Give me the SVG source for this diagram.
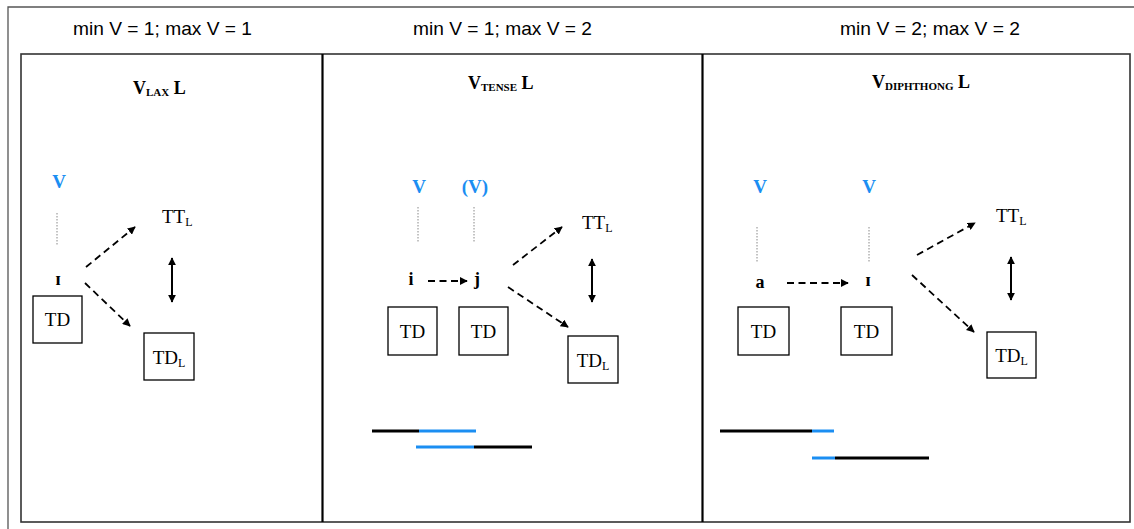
<svg xmlns="http://www.w3.org/2000/svg" width="1134" height="529" viewBox="0 0 1134 529">
<defs>
<style>
.title{font-family:"Liberation Sans",Arial,sans-serif;font-size:19px;fill:#000}
.head{font-family:"Liberation Serif","DejaVu Serif",serif;font-size:18px;font-weight:bold;fill:#000}
.sub{font-size:11px}
.blue{font-family:"Liberation Serif","DejaVu Serif",serif;font-size:19px;font-weight:bold;fill:#1b8ef2;text-anchor:middle}
.seg{font-family:"Liberation Serif","DejaVu Serif",serif;font-size:18px;font-weight:bold;fill:#000;text-anchor:middle}
.lbl{font-family:"Liberation Serif","DejaVu Serif",serif;font-size:19px;fill:#000}
.lsub{font-size:12px}
.box{fill:#fff;stroke:#000;stroke-width:1.3}
.dash{fill:none;stroke:#000;stroke-width:1.8;stroke-dasharray:7,4.5}
.dot{fill:none;stroke:#888;stroke-width:1;stroke-dasharray:1.5,1.5}
.dbl{fill:none;stroke:#000;stroke-width:2}
.bk{stroke:#000;stroke-width:3}
.bl{stroke:#1b8ef2;stroke-width:3}
</style>
<marker id="ah" viewBox="0 0 10 10" refX="9" refY="5" markerWidth="8" markerHeight="8" markerUnits="userSpaceOnUse" orient="auto"><path d="M0,0 L10,5 L0,10 z" fill="#000"/></marker>
<marker id="ah2" viewBox="0 0 10 10" refX="9" refY="5" markerWidth="8" markerHeight="8" markerUnits="userSpaceOnUse" orient="auto-start-reverse"><path d="M0,0 L10,5 L0,10 z" fill="#000"/></marker>
</defs>
<rect width="1134" height="529" fill="#fff"/>
<g id="frame">
<path d="M8,529 V7 H1134" fill="none" stroke="#555" stroke-width="1.3"/>
<rect x="21" y="54" width="1109" height="468" fill="none" stroke="#333" stroke-width="1.6"/>
<line x1="322.5" y1="54" x2="322.5" y2="522" stroke="#000" stroke-width="2.2"/>
<line x1="702.5" y1="54" x2="702.5" y2="522" stroke="#000" stroke-width="2.2"/>
</g>
<g id="titles">
<text class="title" x="73" y="35" textLength="179" lengthAdjust="spacingAndGlyphs">min V = 1; max V = 1</text>
<text class="title" x="413" y="35" textLength="179" lengthAdjust="spacingAndGlyphs">min V = 1; max V = 2</text>
<text class="title" x="840" y="35" textLength="180" lengthAdjust="spacingAndGlyphs">min V = 2; max V = 2</text>
</g>
<g id="heading-lax"><text class="head" x="133" y="94">V<tspan class="sub" dy="2">LAX</tspan><tspan dy="-2"> L</tspan></text></g>
<g id="heading-tense"><text class="head" x="468" y="89">V<tspan class="sub" dy="2">TENSE</tspan><tspan dy="-2"> L</tspan></text></g>
<g id="heading-diph"><text class="head" x="872" y="88">V<tspan class="sub" dy="2">DIPHTHONG</tspan><tspan dy="-2"> L</tspan></text></g>

<g id="p1-V"><text class="blue" x="59" y="188">V</text></g>
<g id="p1-seg"><text class="seg" x="58" y="285">ɪ</text></g>
<g id="p1-TD"><rect class="box" x="33" y="296" width="49" height="47"/><text class="lbl" x="57.5" y="326" text-anchor="middle">TD</text></g>
<g id="p1-TTL"><text class="lbl" x="162" y="223">TT<tspan class="lsub" dy="3">L</tspan></text></g>
<g id="p1-TDL"><rect class="box" x="144" y="333" width="50" height="47"/><text class="lbl" x="169" y="364" text-anchor="middle">TD<tspan class="lsub" dy="3">L</tspan></text></g>

<g id="p2-V1"><text class="blue" x="419" y="193">V</text></g>
<g id="p2-V2"><text class="blue" x="475" y="193">(V)</text></g>
<g id="p2-i"><text class="seg" x="411" y="285">i</text></g>
<g id="p2-j"><text class="seg" x="477" y="285">j</text></g>
<g id="p2-TD1"><rect class="box" x="388" y="307" width="49" height="48"/><text class="lbl" x="412.5" y="338" text-anchor="middle">TD</text></g>
<g id="p2-TD2"><rect class="box" x="459" y="307" width="49" height="48"/><text class="lbl" x="483.5" y="338" text-anchor="middle">TD</text></g>
<g id="p2-TTL"><text class="lbl" x="582" y="229">TT<tspan class="lsub" dy="3">L</tspan></text></g>
<g id="p2-TDL"><rect class="box" x="568" y="336" width="50" height="47"/><text class="lbl" x="593" y="367" text-anchor="middle">TD<tspan class="lsub" dy="3">L</tspan></text></g>

<g id="p3-V1"><text class="blue" x="760" y="193">V</text></g>
<g id="p3-V2"><text class="blue" x="869" y="193">V</text></g>
<g id="p3-a"><text class="seg" x="760" y="288">a</text></g>
<g id="p3-I"><text class="seg" x="868" y="286">ɪ</text></g>
<g id="p3-TD1"><rect class="box" x="738" y="307" width="51" height="48"/><text class="lbl" x="763.5" y="338" text-anchor="middle">TD</text></g>
<g id="p3-TD2"><rect class="box" x="841" y="307" width="51" height="48"/><text class="lbl" x="866.5" y="338" text-anchor="middle">TD</text></g>
<g id="p3-TTL"><text class="lbl" x="996" y="222">TT<tspan class="lsub" dy="3">L</tspan></text></g>
<g id="p3-TDL"><rect class="box" x="987" y="332" width="49" height="46"/><text class="lbl" x="1011.5" y="362" text-anchor="middle">TD<tspan class="lsub" dy="3">L</tspan></text></g>

<g id="connectors">
<line class="dot" x1="57" y1="213" x2="57" y2="246"/>
<line class="dash" x1="86" y1="267" x2="135" y2="227" marker-end="url(#ah)"/>
<line class="dash" x1="85" y1="283" x2="130" y2="326" marker-end="url(#ah)"/>
<line class="dbl" x1="172" y1="258" x2="172" y2="302" marker-start="url(#ah2)" marker-end="url(#ah2)"/>

<line class="dot" x1="418" y1="207" x2="418" y2="243"/>
<line class="dot" x1="474" y1="207" x2="474" y2="243"/>
<line class="dash" x1="428" y1="281" x2="467" y2="281" marker-end="url(#ah)"/>
<line class="dash" x1="513" y1="265" x2="562" y2="227" marker-end="url(#ah)"/>
<line class="dash" x1="508" y1="287" x2="568" y2="327" marker-end="url(#ah)"/>
<line class="dbl" x1="592" y1="259" x2="592" y2="302" marker-start="url(#ah2)" marker-end="url(#ah2)"/>

<line class="dot" x1="757" y1="227" x2="757" y2="263"/>
<line class="dot" x1="869" y1="227" x2="869" y2="263"/>
<line class="dash" x1="787" y1="283" x2="848" y2="283" marker-end="url(#ah)"/>
<line class="dash" x1="917" y1="255" x2="975" y2="223" marker-end="url(#ah)"/>
<line class="dash" x1="912" y1="275" x2="974" y2="332" marker-end="url(#ah)"/>
<line class="dbl" x1="1011" y1="257" x2="1011" y2="300" marker-start="url(#ah2)" marker-end="url(#ah2)"/>
</g>
<g id="timing-bars">
<line class="bk" x1="372" y1="431" x2="419" y2="431"/>
<line class="bl" x1="419" y1="431" x2="476" y2="431"/>
<line class="bl" x1="416" y1="447" x2="474" y2="447"/>
<line class="bk" x1="474" y1="447" x2="532" y2="447"/>
<line class="bk" x1="720" y1="431" x2="812" y2="431"/>
<line class="bl" x1="812" y1="431" x2="834" y2="431"/>
<line class="bl" x1="812" y1="458" x2="835" y2="458"/>
<line class="bk" x1="835" y1="458" x2="929" y2="458"/>
</g>
</svg>
